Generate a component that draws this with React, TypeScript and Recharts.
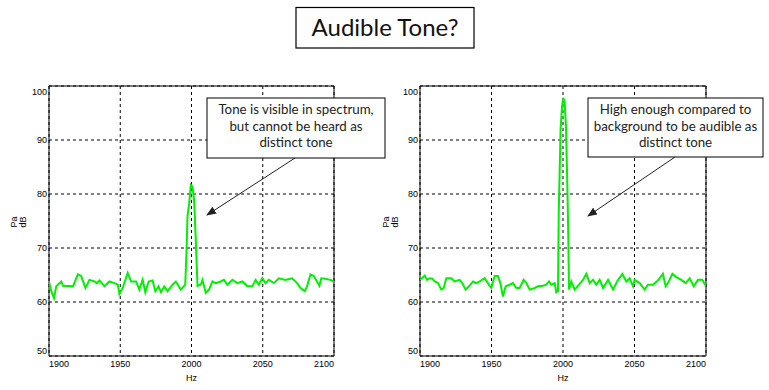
import React from "react";
import {
  LineChart,
  Line,
  XAxis,
  YAxis,
  CartesianGrid,
  ReferenceArea,
} from "recharts";

// ---------- data ----------
const freqTicks = [1900, 1950, 2000, 2050, 2100];
const levelTicks = [50, 60, 70, 80, 90, 100];

const freqLeft = [
  1900, 1901.6, 1903.5, 1905.1, 1907.5, 1908.6, 1909.8, 1916.8, 1920.3, 1922.6,
  1925.6, 1928.4, 1931.9, 1933.6, 1935.4, 1938.9, 1942.4, 1945.9, 1948.3, 1949.4,
  1951.7, 1955.2, 1957.6, 1961.1, 1963.4, 1965.7, 1967.6, 1969.9, 1972.7, 1974.6,
  1976.9, 1978.6, 1980.9, 1983.2, 1986.7, 1989.0, 1992.5, 1995.6, 1996.5, 1997.2,
  1998.4, 1999.5, 2000.7, 2001.9, 2003.0, 2004.2, 2006.5, 2007.7, 2010.0, 2012.3,
  2014.7, 2017.0, 2020.5, 2022.8, 2025.2, 2028.7, 2032.2, 2035.7, 2039.2, 2042.7,
  2045.0, 2047.3, 2049.6, 2052.0, 2054.3, 2057.8, 2061.3, 2066.0, 2070.6, 2074.1,
  2076.5, 2079.5, 2081.1, 2083.5, 2085.8, 2088.1, 2089.7, 2091.1, 2093.9, 2097.4,
  2100,
];
const levelLeft = [
  63.8, 62.0, 60.7, 62.9, 63.5, 63.8, 63.0, 62.9, 65.1, 64.8,
  62.6, 64.1, 63.8, 63.5, 64.0, 62.9, 63.8, 63.5, 63.2, 61.5,
  62.6, 65.4, 63.8, 63.8, 62.3, 64.1, 61.8, 63.8, 64.0, 62.0,
  62.9, 61.8, 62.9, 62.0, 63.2, 63.8, 62.3, 63.2, 69.4, 75.9,
  78.3, 81.7, 81.4, 78.6, 71.5, 63.0, 63.2, 64.1, 61.7, 62.3,
  63.8, 63.5, 63.8, 64.1, 63.2, 64.1, 63.5, 63.8, 62.9, 62.9,
  64.1, 63.2, 64.4, 63.5, 64.1, 63.5, 64.4, 64.1, 64.4, 63.5,
  62.6, 62.0, 62.9, 65.1, 64.8, 63.8, 63.0, 64.4, 64.3, 64.1,
  63.8,
];

const freqRight = [
  1900, 1902.1, 1903.3, 1904.9, 1906.8, 1908.6, 1910.3, 1912.6, 1914.9, 1916.6,
  1918.4, 1921.9, 1924.2, 1927.7, 1929.6, 1931.9, 1934.3, 1937.1, 1939.4, 1941.7,
  1945.2, 1948.7, 1949.9, 1952.2, 1954.5, 1956.2, 1958.0, 1959.9, 1962.7, 1965.0,
  1967.4, 1969.7, 1972.5, 1974.4, 1976.7, 1980.2, 1982.5, 1986.0, 1988.3, 1990.2,
  1991.8, 1994.2, 1995.3, 1996.5, 1997.0, 1997.6, 1998.3, 1999.3, 2000.2, 2001.2,
  2002.1, 2003.0, 2003.7, 2004.2, 2005.8, 2008.2, 2011.2, 2014.0, 2016.3, 2018.7,
  2021.0, 2023.3, 2025.6, 2028.0, 2031.5, 2035.0, 2037.8, 2041.5, 2044.3, 2046.6,
  2049.0, 2050.1, 2053.6, 2057.1, 2059.4, 2062.9, 2066.4, 2069.9, 2071.8, 2073.4,
  2076.5, 2079.3, 2082.7, 2085.8, 2088.6, 2091.4, 2094.4, 2097.4, 2100,
];
const levelRight = [
  64.1, 64.6, 64.9, 64.1, 64.4, 64.3, 63.8, 63.5, 62.3, 62.6,
  64.4, 64.4, 63.8, 64.1, 63.5, 62.3, 62.9, 63.8, 63.5, 63.8,
  64.4, 63.0, 62.6, 64.8, 64.8, 63.5, 61.0, 62.9, 63.2, 63.5,
  62.6, 62.6, 64.1, 63.5, 62.3, 62.6, 62.9, 63.0, 63.2, 63.8,
  63.2, 63.5, 61.8, 62.0, 76.5, 83.3, 91.9, 96.2, 97.8, 96.9,
  92.2, 82.0, 72.2, 62.3, 63.8, 62.3, 63.2, 64.1, 65.2, 63.5,
  64.1, 63.2, 64.1, 62.6, 64.1, 62.3, 63.8, 65.2, 63.8, 64.4,
  62.9, 64.1, 63.5, 62.3, 63.2, 63.2, 64.0, 65.2, 62.9, 63.5,
  65.2, 64.6, 64.1, 63.5, 64.4, 62.9, 64.1, 64.1, 62.9,
];

const titleText = "Audible Tone?";
const noteLeft = ["Tone is visible in spectrum,", "but cannot be heard as", "distinct tone"];
const noteRight = ["High enough compared to", "background to be audible as", "distinct tone"];
const xLabel = "Hz";
const yLabelLines = ["Pa", "dB"];

const dataLeft = freqLeft.map((f, i) => ({ f, v: levelLeft[i] }));
const dataRight = freqRight.map((f, i) => ({ f, v: levelRight[i] }));

const TICK_FONT = "'Liberation Sans', Arial, sans-serif";
const NOTE_FONT = "Lato, 'Open Sans', sans-serif";

const XTick = (props: any) => {
  const { x, y, payload } = props;
  const val = payload.value;
  let anchor: "start" | "middle" | "end" = "middle";
  if (val === freqTicks[0]) anchor = "start";
  if (val === freqTicks[freqTicks.length - 1]) anchor = "end";
  return (
    <text x={x} y={y} dy="0.71em" textAnchor={anchor} fontSize={9} fontFamily={TICK_FONT} fill="#000">
      {val}
    </text>
  );
};

const YTick = (props: any) => {
  const { x, y, payload } = props;
  const val = payload.value;
  let dy = 3.2;
  if (val === levelTicks[levelTicks.length - 1]) dy = 9;
  if (val === levelTicks[0]) dy = -2;
  return (
    <text x={x} y={y} dy={dy} textAnchor="end" fontSize={9} fontFamily={TICK_FONT} fill="#000">
      {val}
    </text>
  );
};

type PanelProps = {
  data: { f: number; v: number }[];
  left: number;
  width: number;
  margin: { top: number; right: number; bottom: number; left: number };
};

const Panel = ({ data, left, width, margin }: PanelProps) => (
  <div style={{ position: "absolute", left, top: 0 }}>
    <LineChart width={width} height={390} data={data} margin={margin}>
      <CartesianGrid stroke="#000" strokeDasharray="3 3" strokeWidth={1} />
      <XAxis
        dataKey="f"
        type="number"
        domain={[1900, 2100]}
        ticks={freqTicks}
        allowDataOverflow
        axisLine={false}
        tickLine={false}
        tickSize={0}
        tickMargin={5}
        height={20}
        tick={<XTick />}
        interval={0}
      />
      <YAxis
        type="number"
        domain={[50, 100]}
        ticks={levelTicks}
        allowDataOverflow
        axisLine={false}
        tickLine={false}
        tickSize={0}
        tickMargin={2}
        width={40}
        tick={<YTick />}
        interval={0}
      />
      <ReferenceArea x1={1900} x2={2100} y1={50} y2={100} fill="none" stroke="#000" strokeWidth={1} ifOverflow="extendDomain" />
      <Line
        type="linear"
        dataKey="v"
        stroke="#00ee00"
        strokeWidth={2}
        dot={false}
        isAnimationActive={false}
      />
    </LineChart>
  </div>
);

const AxisTitles = ({ plotLeft, plotRight, yCenter, pa, db }: { plotLeft: number; plotRight: number; yCenter: number; pa: number; db: number }) => (
  <g fontFamily={TICK_FONT} fontSize={9} fill="#000">
    <text x={(plotLeft + plotRight) / 2} y={381} textAnchor="middle">{xLabel}</text>
    <text transform={`translate(${pa},${yCenter}) rotate(-90)`} textAnchor="middle" dominantBaseline="central">{yLabelLines[0]}</text>
    <text transform={`translate(${db},${yCenter}) rotate(-90)`} textAnchor="middle" dominantBaseline="central">{yLabelLines[1]}</text>
  </g>
);

const Note = ({ x, y, w, h, lines }: { x: number; y: number; w: number; h: number; lines: string[] }) => (
  <g>
    <rect x={x} y={y} width={w} height={h} fill="#fff" stroke="#000" strokeWidth={1} />
    {lines.map((t, i) => (
      <text
        key={i}
        x={x + w / 2}
        y={y + 16 + i * 16.7}
        textAnchor="middle"
        fontFamily={NOTE_FONT}
        fontSize={13.3}
        fill="#222"
      >
        {t}
      </text>
    ))}
  </g>
);

export default function App() {
  return (
    <div style={{ position: "absolute", left: 0, top: 0, width: 769, height: 390, background: "#fff" }}>
      <Panel data={dataLeft} left={0} width={380} margin={{ top: 86, right: 46, bottom: 14, left: 9 }} />
      <Panel data={dataRight} left={380} width={389} margin={{ top: 86, right: 63, bottom: 14, left: 0 }} />
      <svg width={769} height={390} style={{ position: "absolute", left: 0, top: 0, pointerEvents: "none" }}>
        <defs>
          <marker id="arrowhead" markerWidth="10" markerHeight="8" refX="9" refY="4" orient="auto" markerUnits="userSpaceOnUse">
            <path d="M0,0 L10,4 L0,8 z" fill="#222" />
          </marker>
        </defs>
        <rect x={296} y={7.5} width={178} height={40.5} fill="#fff" stroke="#000" strokeWidth={1.2} />
        <text x={385} y={36} textAnchor="middle" fontFamily={NOTE_FONT} fontSize={24} fill="#111">
          {titleText}
        </text>
        <AxisTitles plotLeft={49} plotRight={334} yCenter={222} pa={14} db={23} />
        <AxisTitles plotLeft={420} plotRight={706} yCenter={222} pa={385.5} db={394.5} />
        <Note x={207} y={98} w={178} h={60} lines={noteLeft} />
        <Note x={588} y={98} w={175} h={59} lines={noteRight} />
        <line x1={295} y1={158} x2={207} y2={215} stroke="#222" strokeWidth={1} markerEnd="url(#arrowhead)" />
        <line x1={675} y1={157} x2={588} y2={216} stroke="#222" strokeWidth={1} markerEnd="url(#arrowhead)" />
      </svg>
    </div>
  );
}
